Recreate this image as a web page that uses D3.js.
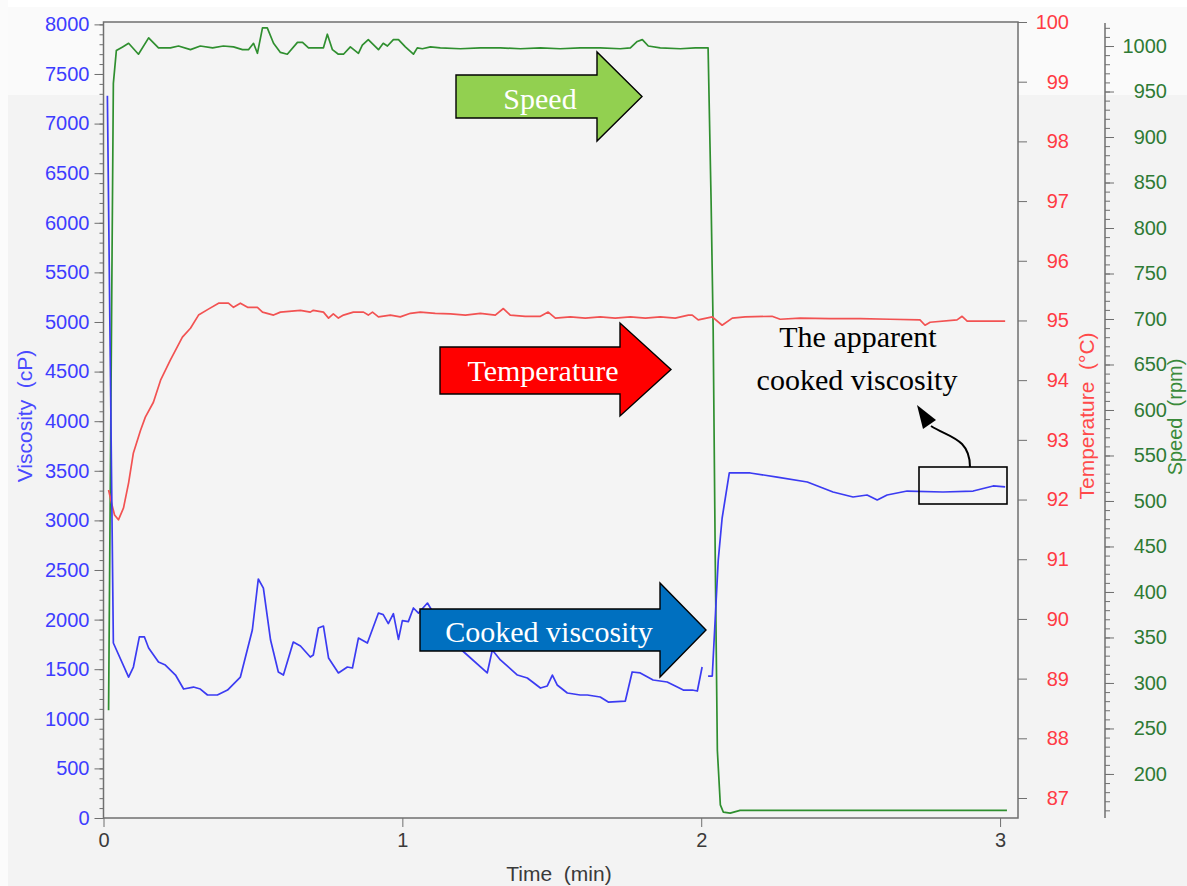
<!DOCTYPE html>
<html><head><meta charset="utf-8">
<script src="https://cdn.jsdelivr.net/npm/d3@7"></script>
<style>
html,body{margin:0;padding:0;background:#f3f3f3;}
svg{display:block;}
text{font-family:"Liberation Sans",Arial,sans-serif;}
.serif{font-family:"Liberation Serif","Times New Roman",serif;}
</style></head><body>
<svg id="chart" width="1187" height="886"></svg>
<script>
// ---- data: time in minutes ----
const viscosityTime = [0.013,0.033,0.084,0.100,0.120,0.137,0.151,0.184,0.207,0.241,0.268,0.301,0.324,0.348,0.381,0.415,0.458,0.498,0.518,0.535,0.559,0.585,0.602,0.635,0.659,0.692,0.702,0.719,0.736,0.753,0.786,0.816,0.833,0.853,0.883,0.920,0.936,0.953,0.970,0.987,1.000,1.020,1.037,1.054,1.084,1.127,1.177,1.217,1.284,1.301,1.328,1.385,1.418,1.462,1.485,1.502,1.518,1.552,1.595,1.619,1.662,1.689,1.746,1.769,1.796,1.839,1.886,1.920,1.940,1.970,1.987,2.003,2.013,2.023,2.037,2.057,2.070,2.094,2.164,2.254,2.355,2.441,2.508,2.555,2.589,2.622,2.689,2.809,2.910,2.977,3.017];
const viscosityValues = [7280,1764,1421,1522,1825,1825,1714,1573,1542,1441,1300,1320,1300,1240,1240,1290,1421,1895,2409,2318,1794,1472,1441,1774,1734,1623,1643,1915,1935,1613,1462,1522,1512,1814,1764,2066,2050,1960,2060,1800,1990,1980,2117,2066,2167,1950,1750,1643,1462,1694,1593,1441,1411,1310,1331,1441,1341,1260,1240,1240,1220,1169,1179,1472,1462,1391,1371,1320,1290,1290,1280,1522,null,1431,1431,2600,3024,3478,3478,3437,3387,3286,3236,3256,3206,3256,3296,3286,3296,3347,3337];

const temperatureTime = [0.017,0.027,0.037,0.050,0.067,0.084,0.100,0.124,0.140,0.167,0.191,0.224,0.264,0.291,0.318,0.351,0.385,0.418,0.435,0.458,0.482,0.515,0.532,0.569,0.592,0.659,0.692,0.702,0.736,0.753,0.769,0.786,0.803,0.836,0.870,0.886,0.900,0.920,0.960,0.993,1.027,1.060,1.110,1.161,1.211,1.261,1.311,1.338,1.361,1.411,1.462,1.488,1.512,1.562,1.612,1.662,1.712,1.763,1.813,1.863,1.913,1.957,1.970,1.990,2.037,2.070,2.104,2.147,2.237,2.264,2.331,2.431,2.532,2.632,2.732,2.749,2.766,2.856,2.873,2.890,2.950,3.017];
const temperatureValues = [92.16,91.94,91.74,91.66,91.86,92.28,92.78,93.16,93.38,93.63,94.00,94.34,94.72,94.87,95.09,95.19,95.29,95.29,95.22,95.29,95.22,95.22,95.14,95.09,95.14,95.17,95.14,95.17,95.14,95.04,95.11,95.04,95.09,95.14,95.14,95.09,95.14,95.06,95.09,95.06,95.12,95.14,95.12,95.11,95.09,95.12,95.09,95.20,95.09,95.07,95.07,95.14,95.04,95.06,95.04,95.06,95.04,95.06,95.04,95.06,95.04,95.09,95.09,95.01,95.06,94.92,95.04,95.06,95.07,95.02,95.04,95.03,95.03,95.02,95.01,94.92,94.97,95.01,95.07,94.99,94.99,94.99];

const speedTime = [0.017,0.033,0.043,0.064,0.084,0.117,0.151,0.184,0.224,0.251,0.291,0.324,0.365,0.401,0.435,0.465,0.485,0.502,0.515,0.532,0.548,0.569,0.592,0.615,0.649,0.666,0.686,0.736,0.749,0.766,0.786,0.803,0.826,0.853,0.866,0.886,0.920,0.936,0.950,0.970,0.987,1.010,1.037,1.050,1.067,1.094,1.127,1.194,1.261,1.328,1.395,1.462,1.528,1.595,1.662,1.729,1.763,1.786,1.803,1.823,1.863,1.930,1.980,2.023,2.033,2.040,2.047,2.054,2.064,2.074,2.097,2.130,2.331,2.666,3.023];
const speedValues = [270,959,995,999,1003,991,1009,998,998,1000,996,1000,998,1000,999,996,996,1003,992,1020,1020,1003,993,991,1004,1004,998,998,1013,996,991,991,999,992,1001,1007,996,1003,1000,1007,1007,999,991,998,997,999,998,997,998,998,997,998,997,998,998,997,998,1005,1007,1000,998,997,998,998,831,688,435,226,166,158,157,160,160,160,160];

// ---- tick labels ----
const timeTicks = [0, 1, 2, 3];
const viscosityTicks = [0,500,1000,1500,2000,2500,3000,3500,4000,4500,5000,5500,6000,6500,7000,7500,8000];
const temperatureTicks = [87,88,89,90,91,92,93,94,95,96,97,98,99,100];
const speedTicks = [200,250,300,350,400,450,500,550,600,650,700,750,800,850,900,950,1000];

// ---- layout ----
const W = 1187, H = 886;
const plot = {left: 103.5, right: 1018, top: 22, bottom: 818};
const speedAxisX = 1105;

const colors = {
  visc: "#3b3bf2", viscText: "#3d3dff",
  temp: "#f25252", tempText: "#ff3a44",
  speed: "#2f8f2f", speedText: "#2f7a35",
  axis: "#6f6f6f", timeText: "#3a3a3a"
};

const svg = d3.select("#chart");

// background bands
svg.append("rect").attr("x",0).attr("y",0).attr("width",W).attr("height",H).attr("fill","#f3f3f3");
svg.append("rect").attr("x",0).attr("y",7).attr("width",W).attr("height",88).attr("fill","#fafafa");
svg.append("rect").attr("x",0).attr("y",0).attr("width",W).attr("height",7).attr("fill","#ffffff");
svg.append("rect").attr("x",0).attr("y",0).attr("width",8).attr("height",H).attr("fill","#fbfbfb");
// plot area
svg.append("rect").attr("x",plot.left).attr("y",plot.top)
  .attr("width",plot.right-plot.left).attr("height",plot.bottom-plot.top).attr("fill","#f4f4f4");

// ---- scales ----
const x = d3.scaleLinear().domain([0, 3.06]).range([plot.left, plot.right]);
const yV = d3.scaleLinear().domain([0, 8024]).range([plot.bottom, plot.top]);
const yT = d3.scaleLinear().domain([86.665, 100]).range([plot.bottom, plot.top]);
const yS = d3.scaleLinear().domain([151.6, 1026.4]).range([plot.bottom, plot.top]);

// ---- axes ----
const fs = 20;
// viscosity (left)
const gV = svg.append("g").attr("transform",`translate(${plot.left},0)`);
gV.call(d3.axisLeft(yV).tickValues(d3.range(0, 8001, 100)).tickSize(4).tickFormat(""));
gV.call(g => g.selectAll(".tick line").attr("stroke", colors.axis));
const gV2 = svg.append("g").attr("transform",`translate(${plot.left},0)`);
gV2.call(d3.axisLeft(yV).tickValues(viscosityTicks).tickSize(9).tickPadding(5).tickFormat(d3.format("d")));
gV2.selectAll(".tick line").attr("stroke", colors.axis);
gV2.selectAll(".tick text").attr("fill", colors.viscText).style("font-size", fs+"px");
svg.selectAll(".domain").remove();

// temperature (right of plot)
const gT = svg.append("g").attr("transform",`translate(${plot.right},0)`);
gT.call(d3.axisRight(yT).tickValues(temperatureTicks).tickSize(9).tickFormat(d3.format("d")));
gT.select(".domain").remove();
gT.selectAll(".tick line").attr("stroke", colors.axis);
gT.selectAll(".tick text").attr("fill", colors.tempText).style("font-size", fs+"px")
  .attr("text-anchor","end").attr("x", 51);

// speed (far right)
const gS0 = svg.append("g").attr("transform",`translate(${speedAxisX},0)`);
gS0.call(d3.axisRight(yS).tickValues(d3.range(160, 1021, 10)).tickSize(5).tickFormat(""));
gS0.select(".domain").remove();
gS0.selectAll(".tick line").attr("stroke", colors.axis);
const gS = svg.append("g").attr("transform",`translate(${speedAxisX},0)`);
gS.call(d3.axisRight(yS).tickValues(speedTicks).tickSize(9).tickFormat(d3.format("d")));
gS.select(".domain").remove();
gS.selectAll(".tick line").attr("stroke", colors.axis);
gS.selectAll(".tick text").attr("fill", colors.speedText).style("font-size", fs+"px")
  .attr("text-anchor","end").attr("x", 62);
svg.append("line").attr("x1",speedAxisX).attr("x2",speedAxisX).attr("y1",plot.top+1).attr("y2",plot.bottom)
  .attr("stroke",colors.axis).attr("stroke-width",1.5);

// time (bottom)
const gX = svg.append("g").attr("transform",`translate(0,${plot.bottom})`);
gX.call(d3.axisBottom(x).tickValues(timeTicks).tickSize(9).tickPadding(6).tickFormat(d3.format("d")));
gX.select(".domain").remove();
gX.selectAll(".tick line").attr("stroke", colors.axis);
gX.selectAll(".tick text").attr("fill", colors.timeText).style("font-size", fs+"px");

// frame
svg.append("rect").attr("x",plot.left).attr("y",plot.top)
  .attr("width",plot.right-plot.left).attr("height",plot.bottom-plot.top)
  .attr("fill","none").attr("stroke",colors.axis).attr("stroke-width",1.5);

// axis titles
const tfs = 21;
svg.append("text").attr("transform","translate(32,416) rotate(-90)").attr("text-anchor","middle")
  .style("white-space","pre").style("font-size",tfs+"px").attr("fill","#4a4aff").text("Viscosity  (cP)");
svg.append("text").attr("transform","translate(1094,416) rotate(-90)").attr("text-anchor","middle")
  .style("white-space","pre").style("font-size",tfs+"px").attr("fill","#ff4a4a").text("Temperature  (°C)");
svg.append("text").attr("transform","translate(1182,417) rotate(-90)").attr("text-anchor","middle")
  .style("white-space","pre").style("font-size","20px").attr("fill","#3a8a3a").text("Speed  (rpm)");
svg.append("text").attr("x",559).attr("y",881).attr("text-anchor","middle")
  .style("white-space","pre").style("font-size",tfs+"px").attr("fill",colors.timeText).text("Time  (min)");

// ---- series ----
const plotArea = svg.append("g");
function drawSeries(times, values, yScale, color) {
  const pts = times.map((t, i) => [t, values[i]]);
  const line = d3.line().defined(d => d[1] != null).x(d => x(d[0])).y(d => yScale(d[1]));
  plotArea.append("path").datum(pts).attr("d", line)
    .attr("fill","none").attr("stroke",color).attr("stroke-width",1.7).attr("stroke-linejoin","round");
}
drawSeries(speedTime, speedValues, yS, colors.speed);
drawSeries(temperatureTime, temperatureValues, yT, colors.temp);
drawSeries(viscosityTime, viscosityValues, yV, colors.visc);

// ---- callout arrows ----
function blockArrow(a, fill, label) {
  const g = svg.append("g");
  const p = [[a.x0,a.y1],[a.xh,a.y1],[a.xh,a.hy1],[a.xt,(a.hy1+a.hy2)/2],[a.xh,a.hy2],[a.xh,a.y2],[a.x0,a.y2]];
  g.append("polygon").attr("points", p.map(d => d.join(",")).join(" "))
    .attr("fill", fill).attr("stroke","#000").attr("stroke-width",1.4);
  g.append("text").attr("class","serif").attr("x",a.tx).attr("y",a.ty).attr("text-anchor","middle")
    .style("font-size","30px").attr("fill","#fff").text(label);
}
blockArrow({x0:456,y1:75,y2:118,xh:597,hy1:52,hy2:141,xt:642,tx:540,ty:109}, "#92d050", "Speed");
blockArrow({x0:440,y1:347,y2:394,xh:620,hy1:323,hy2:416,xt:671,tx:543,ty:381}, "#ff0000", "Temperature");
blockArrow({x0:420,y1:609,y2:651,xh:660,hy1:583,hy2:677,xt:706,tx:549,ty:642}, "#0070c0", "Cooked viscosity");

// apparent cooked viscosity note
const note = svg.append("g");
note.append("text").attr("class","serif").attr("x",858).attr("y",347).attr("text-anchor","middle")
  .style("font-size","30px").attr("fill","#000").text("The apparent");
note.append("text").attr("class","serif").attr("x",857).attr("y",390).attr("text-anchor","middle")
  .style("font-size","30px").attr("fill","#000").text("cooked viscosity");
note.append("rect").attr("x",919).attr("y",467).attr("width",88).attr("height",37)
  .attr("fill","none").attr("stroke","#000").attr("stroke-width",1.6);
note.append("path").attr("d","M970,467 C970,438 948,437 931,426")
  .attr("fill","none").attr("stroke","#000").attr("stroke-width",2);
note.append("polygon").attr("points","917,405 936,420 923,429").attr("fill","#000");
</script></body></html>
